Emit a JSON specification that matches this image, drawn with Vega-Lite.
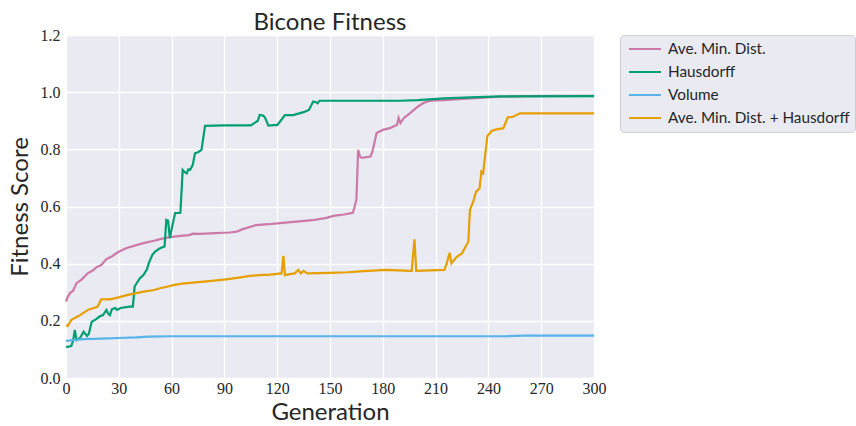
{
  "$schema": "https://vega.github.io/schema/vega-lite/v6.json",
  "width": 528,
  "height": 343,
  "autosize": "none",
  "padding": {"left": 66, "top": 35, "right": 262, "bottom": 48},
  "background": "white",
  "config": {
    "view": {"fill": "#EAEAF2", "stroke": null},
    "axis": {"grid": true, "gridColor": "white", "gridWidth": 1.3, "domain": false, "ticks": false,
      "labelFont": "Liberation Serif", "labelFontSize": 16, "labelColor": "#262626",
      "titleFont": "Lato", "titleFontSize": 24, "titleFontWeight": "normal", "titleColor": "#262626"}
  },
  "title": {"text": "Bicone Fitness", "font": "Lato", "fontSize": 24, "fontWeight": "normal", "color": "#262626", "anchor": "middle", "offset": -8},
  "data": {"values": [
    {"s":"Ave. Min. Dist.","g":0,"v":0.267},{"s":"Ave. Min. Dist.","g":1,"v":0.285},{"s":"Ave. Min. Dist.","g":2.3,"v":0.297},{"s":"Ave. Min. Dist.","g":4,"v":0.305},{"s":"Ave. Min. Dist.","g":6,"v":0.332},{"s":"Ave. Min. Dist.","g":9,"v":0.345},{"s":"Ave. Min. Dist.","g":12.5,"v":0.367},{"s":"Ave. Min. Dist.","g":15,"v":0.375},{"s":"Ave. Min. Dist.","g":17.4,"v":0.388},{"s":"Ave. Min. Dist.","g":20,"v":0.395},{"s":"Ave. Min. Dist.","g":23,"v":0.416},{"s":"Ave. Min. Dist.","g":26,"v":0.425},{"s":"Ave. Min. Dist.","g":29,"v":0.438},{"s":"Ave. Min. Dist.","g":32,"v":0.448},{"s":"Ave. Min. Dist.","g":34.5,"v":0.455},{"s":"Ave. Min. Dist.","g":40,"v":0.465},{"s":"Ave. Min. Dist.","g":44,"v":0.472},{"s":"Ave. Min. Dist.","g":50,"v":0.48},{"s":"Ave. Min. Dist.","g":53.4,"v":0.486},{"s":"Ave. Min. Dist.","g":59,"v":0.493},{"s":"Ave. Min. Dist.","g":65,"v":0.497},{"s":"Ave. Min. Dist.","g":70,"v":0.5},{"s":"Ave. Min. Dist.","g":72,"v":0.505},{"s":"Ave. Min. Dist.","g":76,"v":0.504},{"s":"Ave. Min. Dist.","g":85,"v":0.507},{"s":"Ave. Min. Dist.","g":93,"v":0.509},{"s":"Ave. Min. Dist.","g":97,"v":0.512},{"s":"Ave. Min. Dist.","g":100,"v":0.52},{"s":"Ave. Min. Dist.","g":108,"v":0.535},{"s":"Ave. Min. Dist.","g":115,"v":0.538},{"s":"Ave. Min. Dist.","g":121.6,"v":0.542},{"s":"Ave. Min. Dist.","g":131,"v":0.547},{"s":"Ave. Min. Dist.","g":140,"v":0.552},{"s":"Ave. Min. Dist.","g":148,"v":0.56},{"s":"Ave. Min. Dist.","g":152,"v":0.567},{"s":"Ave. Min. Dist.","g":158,"v":0.572},{"s":"Ave. Min. Dist.","g":163,"v":0.578},{"s":"Ave. Min. Dist.","g":164,"v":0.6},{"s":"Ave. Min. Dist.","g":165,"v":0.623},{"s":"Ave. Min. Dist.","g":166,"v":0.798},{"s":"Ave. Min. Dist.","g":167,"v":0.775},{"s":"Ave. Min. Dist.","g":168,"v":0.77},{"s":"Ave. Min. Dist.","g":173,"v":0.775},{"s":"Ave. Min. Dist.","g":174,"v":0.79},{"s":"Ave. Min. Dist.","g":176.5,"v":0.857},{"s":"Ave. Min. Dist.","g":180,"v":0.868},{"s":"Ave. Min. Dist.","g":184,"v":0.874},{"s":"Ave. Min. Dist.","g":186,"v":0.88},{"s":"Ave. Min. Dist.","g":188,"v":0.885},{"s":"Ave. Min. Dist.","g":189,"v":0.91},{"s":"Ave. Min. Dist.","g":190,"v":0.892},{"s":"Ave. Min. Dist.","g":192,"v":0.91},{"s":"Ave. Min. Dist.","g":195.5,"v":0.927},{"s":"Ave. Min. Dist.","g":198,"v":0.94},{"s":"Ave. Min. Dist.","g":200,"v":0.95},{"s":"Ave. Min. Dist.","g":203,"v":0.962},{"s":"Ave. Min. Dist.","g":207,"v":0.97},{"s":"Ave. Min. Dist.","g":215,"v":0.972},{"s":"Ave. Min. Dist.","g":225,"v":0.976},{"s":"Ave. Min. Dist.","g":235,"v":0.98},{"s":"Ave. Min. Dist.","g":247,"v":0.984},{"s":"Ave. Min. Dist.","g":260,"v":0.986},{"s":"Ave. Min. Dist.","g":300,"v":0.987},
    {"s":"Hausdorff","g":0,"v":0.108},{"s":"Hausdorff","g":3,"v":0.112},{"s":"Hausdorff","g":4,"v":0.13},{"s":"Hausdorff","g":5,"v":0.168},{"s":"Hausdorff","g":6,"v":0.133},{"s":"Hausdorff","g":8,"v":0.14},{"s":"Hausdorff","g":10,"v":0.162},{"s":"Hausdorff","g":12,"v":0.147},{"s":"Hausdorff","g":13,"v":0.155},{"s":"Hausdorff","g":14.6,"v":0.197},{"s":"Hausdorff","g":17,"v":0.205},{"s":"Hausdorff","g":19,"v":0.215},{"s":"Hausdorff","g":21,"v":0.22},{"s":"Hausdorff","g":23,"v":0.238},{"s":"Hausdorff","g":24,"v":0.225},{"s":"Hausdorff","g":25,"v":0.22},{"s":"Hausdorff","g":26,"v":0.24},{"s":"Hausdorff","g":28,"v":0.245},{"s":"Hausdorff","g":29,"v":0.238},{"s":"Hausdorff","g":31,"v":0.245},{"s":"Hausdorff","g":36,"v":0.25},{"s":"Hausdorff","g":38,"v":0.25},{"s":"Hausdorff","g":39,"v":0.32},{"s":"Hausdorff","g":42,"v":0.349},{"s":"Hausdorff","g":44,"v":0.36},{"s":"Hausdorff","g":46,"v":0.38},{"s":"Hausdorff","g":47,"v":0.401},{"s":"Hausdorff","g":49,"v":0.43},{"s":"Hausdorff","g":50.6,"v":0.442},{"s":"Hausdorff","g":53.4,"v":0.454},{"s":"Hausdorff","g":56,"v":0.46},{"s":"Hausdorff","g":57,"v":0.553},{"s":"Hausdorff","g":58,"v":0.55},{"s":"Hausdorff","g":59,"v":0.489},{"s":"Hausdorff","g":60,"v":0.52},{"s":"Hausdorff","g":62,"v":0.577},{"s":"Hausdorff","g":65,"v":0.578},{"s":"Hausdorff","g":66.3,"v":0.728},{"s":"Hausdorff","g":67.5,"v":0.72},{"s":"Hausdorff","g":68.6,"v":0.716},{"s":"Hausdorff","g":69.5,"v":0.73},{"s":"Hausdorff","g":70.5,"v":0.728},{"s":"Hausdorff","g":72,"v":0.745},{"s":"Hausdorff","g":73.3,"v":0.786},{"s":"Hausdorff","g":75,"v":0.79},{"s":"Hausdorff","g":77,"v":0.798},{"s":"Hausdorff","g":79,"v":0.882},{"s":"Hausdorff","g":90,"v":0.884},{"s":"Hausdorff","g":105,"v":0.884},{"s":"Hausdorff","g":109,"v":0.9},{"s":"Hausdorff","g":110,"v":0.92},{"s":"Hausdorff","g":112,"v":0.918},{"s":"Hausdorff","g":113,"v":0.912},{"s":"Hausdorff","g":115,"v":0.883},{"s":"Hausdorff","g":118,"v":0.885},{"s":"Hausdorff","g":120,"v":0.885},{"s":"Hausdorff","g":122,"v":0.9},{"s":"Hausdorff","g":124.4,"v":0.92},{"s":"Hausdorff","g":127,"v":0.92},{"s":"Hausdorff","g":129,"v":0.92},{"s":"Hausdorff","g":135,"v":0.93},{"s":"Hausdorff","g":138,"v":0.938},{"s":"Hausdorff","g":139,"v":0.95},{"s":"Hausdorff","g":140.5,"v":0.967},{"s":"Hausdorff","g":142,"v":0.965},{"s":"Hausdorff","g":143,"v":0.961},{"s":"Hausdorff","g":144,"v":0.97},{"s":"Hausdorff","g":160,"v":0.97},{"s":"Hausdorff","g":190,"v":0.97},{"s":"Hausdorff","g":200,"v":0.972},{"s":"Hausdorff","g":215,"v":0.978},{"s":"Hausdorff","g":230,"v":0.982},{"s":"Hausdorff","g":247,"v":0.985},{"s":"Hausdorff","g":300,"v":0.986},
    {"s":"Volume","g":0,"v":0.13},{"s":"Volume","g":5,"v":0.133},{"s":"Volume","g":10,"v":0.136},{"s":"Volume","g":20,"v":0.138},{"s":"Volume","g":30,"v":0.14},{"s":"Volume","g":40,"v":0.142},{"s":"Volume","g":47,"v":0.145},{"s":"Volume","g":60,"v":0.146},{"s":"Volume","g":100,"v":0.146},{"s":"Volume","g":150,"v":0.146},{"s":"Volume","g":200,"v":0.146},{"s":"Volume","g":250,"v":0.146},{"s":"Volume","g":260,"v":0.148},{"s":"Volume","g":300,"v":0.148},
    {"s":"Ave. Min. Dist. + Hausdorff","g":0,"v":0.185},{"s":"Ave. Min. Dist. + Hausdorff","g":1,"v":0.182},{"s":"Ave. Min. Dist. + Hausdorff","g":3,"v":0.203},{"s":"Ave. Min. Dist. + Hausdorff","g":5,"v":0.21},{"s":"Ave. Min. Dist. + Hausdorff","g":8,"v":0.22},{"s":"Ave. Min. Dist. + Hausdorff","g":11,"v":0.232},{"s":"Ave. Min. Dist. + Hausdorff","g":13,"v":0.24},{"s":"Ave. Min. Dist. + Hausdorff","g":15.5,"v":0.244},{"s":"Ave. Min. Dist. + Hausdorff","g":18,"v":0.25},{"s":"Ave. Min. Dist. + Hausdorff","g":20,"v":0.275},{"s":"Ave. Min. Dist. + Hausdorff","g":25,"v":0.275},{"s":"Ave. Min. Dist. + Hausdorff","g":30,"v":0.282},{"s":"Ave. Min. Dist. + Hausdorff","g":34.5,"v":0.29},{"s":"Ave. Min. Dist. + Hausdorff","g":40,"v":0.297},{"s":"Ave. Min. Dist. + Hausdorff","g":44,"v":0.302},{"s":"Ave. Min. Dist. + Hausdorff","g":50,"v":0.308},{"s":"Ave. Min. Dist. + Hausdorff","g":53.4,"v":0.314},{"s":"Ave. Min. Dist. + Hausdorff","g":58,"v":0.32},{"s":"Ave. Min. Dist. + Hausdorff","g":61,"v":0.325},{"s":"Ave. Min. Dist. + Hausdorff","g":66,"v":0.33},{"s":"Ave. Min. Dist. + Hausdorff","g":72,"v":0.334},{"s":"Ave. Min. Dist. + Hausdorff","g":80,"v":0.338},{"s":"Ave. Min. Dist. + Hausdorff","g":91,"v":0.345},{"s":"Ave. Min. Dist. + Hausdorff","g":99,"v":0.352},{"s":"Ave. Min. Dist. + Hausdorff","g":104.5,"v":0.357},{"s":"Ave. Min. Dist. + Hausdorff","g":110,"v":0.36},{"s":"Ave. Min. Dist. + Hausdorff","g":116,"v":0.362},{"s":"Ave. Min. Dist. + Hausdorff","g":122.5,"v":0.366},{"s":"Ave. Min. Dist. + Hausdorff","g":123.5,"v":0.427},{"s":"Ave. Min. Dist. + Hausdorff","g":124.4,"v":0.36},{"s":"Ave. Min. Dist. + Hausdorff","g":128,"v":0.364},{"s":"Ave. Min. Dist. + Hausdorff","g":130,"v":0.366},{"s":"Ave. Min. Dist. + Hausdorff","g":132,"v":0.378},{"s":"Ave. Min. Dist. + Hausdorff","g":133.4,"v":0.366},{"s":"Ave. Min. Dist. + Hausdorff","g":135,"v":0.375},{"s":"Ave. Min. Dist. + Hausdorff","g":137,"v":0.366},{"s":"Ave. Min. Dist. + Hausdorff","g":150,"v":0.368},{"s":"Ave. Min. Dist. + Hausdorff","g":160,"v":0.37},{"s":"Ave. Min. Dist. + Hausdorff","g":169,"v":0.374},{"s":"Ave. Min. Dist. + Hausdorff","g":182,"v":0.378},{"s":"Ave. Min. Dist. + Hausdorff","g":195.5,"v":0.375},{"s":"Ave. Min. Dist. + Hausdorff","g":196.4,"v":0.375},{"s":"Ave. Min. Dist. + Hausdorff","g":198,"v":0.485},{"s":"Ave. Min. Dist. + Hausdorff","g":199,"v":0.375},{"s":"Ave. Min. Dist. + Hausdorff","g":215,"v":0.378},{"s":"Ave. Min. Dist. + Hausdorff","g":216.3,"v":0.401},{"s":"Ave. Min. Dist. + Hausdorff","g":218,"v":0.438},{"s":"Ave. Min. Dist. + Hausdorff","g":219,"v":0.401},{"s":"Ave. Min. Dist. + Hausdorff","g":222,"v":0.424},{"s":"Ave. Min. Dist. + Hausdorff","g":225,"v":0.436},{"s":"Ave. Min. Dist. + Hausdorff","g":227,"v":0.459},{"s":"Ave. Min. Dist. + Hausdorff","g":228.6,"v":0.477},{"s":"Ave. Min. Dist. + Hausdorff","g":229.5,"v":0.588},{"s":"Ave. Min. Dist. + Hausdorff","g":231.4,"v":0.617},{"s":"Ave. Min. Dist. + Hausdorff","g":233,"v":0.652},{"s":"Ave. Min. Dist. + Hausdorff","g":235,"v":0.664},{"s":"Ave. Min. Dist. + Hausdorff","g":236,"v":0.722},{"s":"Ave. Min. Dist. + Hausdorff","g":237,"v":0.716},{"s":"Ave. Min. Dist. + Hausdorff","g":239.4,"v":0.847},{"s":"Ave. Min. Dist. + Hausdorff","g":242,"v":0.865},{"s":"Ave. Min. Dist. + Hausdorff","g":244.7,"v":0.87},{"s":"Ave. Min. Dist. + Hausdorff","g":248.5,"v":0.874},{"s":"Ave. Min. Dist. + Hausdorff","g":251,"v":0.912},{"s":"Ave. Min. Dist. + Hausdorff","g":254,"v":0.914},{"s":"Ave. Min. Dist. + Hausdorff","g":258,"v":0.926},{"s":"Ave. Min. Dist. + Hausdorff","g":300,"v":0.926}
  ]},
  "mark": {"type": "line", "strokeWidth": 2.2, "interpolate": "linear"},
  "encoding": {
    "x": {"field": "g", "type": "quantitative", "title": "Generation",
      "scale": {"domain": [0, 300], "nice": false, "zero": false},
      "axis": {"values": [0,30,60,90,120,150,180,210,240,270,300], "labelPadding": 2, "titlePadding": 4, "labelFlush": false}},
    "y": {"field": "v", "type": "quantitative", "title": "Fitness Score",
      "scale": {"domain": [0, 1.2], "nice": false},
      "axis": {"values": [0,0.2,0.4,0.6,0.8,1.0,1.2], "format": ".1f", "labelPadding": 6, "titlePadding": 8}},
    "color": {"field": "s", "type": "nominal", "sort": null,
      "scale": {"domain": ["Ave. Min. Dist.", "Hausdorff", "Volume", "Ave. Min. Dist. + Hausdorff"],
        "range": ["#CC79A7", "#009E73", "#56B4E9", "#E69F00"]},
      "legend": {"title": null, "orient": "none", "legendX": 554, "legendY": 0,
        "fillColor": "#EAEAF2", "strokeColor": "#CCCCCC", "cornerRadius": 4, "padding": 5,
        "symbolType": "M-2,0H2", "symbolSize": 256, "symbolStrokeWidth": 2, "symbolOffset": 11,
        "labelFont": "Lato", "labelFontSize": 15.3, "labelColor": "#262626", "labelOffset": 14, "labelLimit": 300, "rowPadding": 5}}
  }
}
